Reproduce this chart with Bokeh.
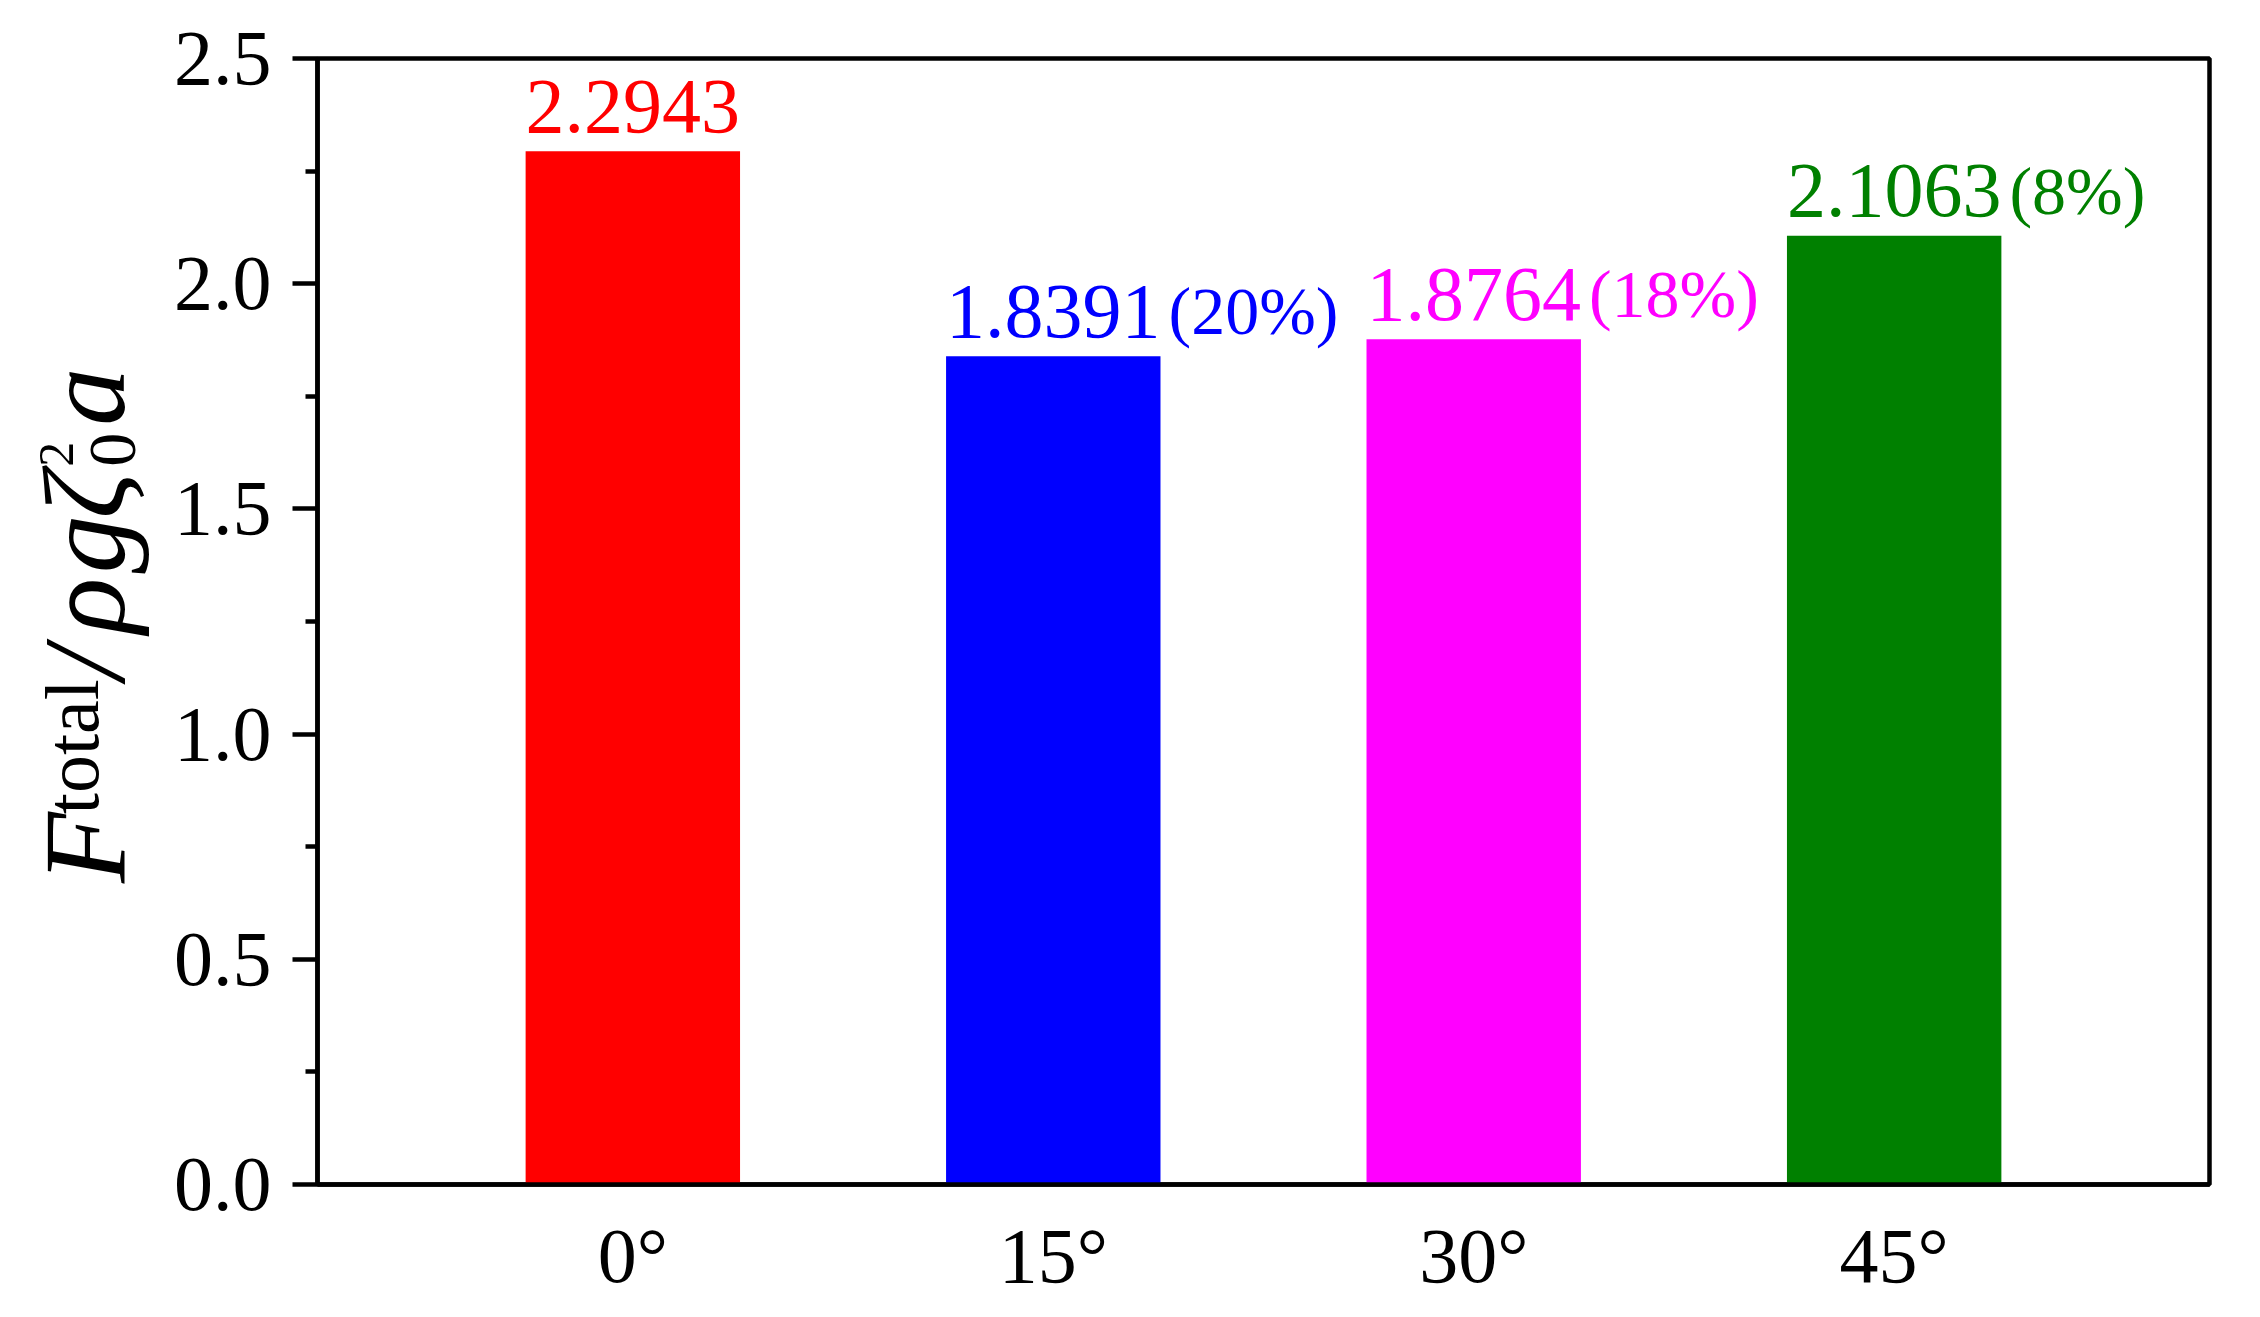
import math
from bokeh.plotting import figure
from bokeh.layouts import row
from bokeh.models import Range1d, FixedTicker, Label, ColumnDataSource, PrintfTickFormatter
from bokeh.core.properties import value
from bokeh.embed import file_html
from bokeh.resources import INLINE

# ---- data ----
categories = ["0°", "15°", "30°", "45°"]
forces = [2.2943, 1.8391, 1.8764, 2.1063]
reductions = ["", "(20%)", "(18%)", "(8%)"]
colors = ["#FF0000", "#0000FF", "#FF00FF", "#008000"]
y_ticks = [0.0, 0.5, 1.0, 1.5, 2.0, 2.5]
y_minor = [0.25, 0.75, 1.25, 1.75, 2.25]

FONT = "Liberation Serif"
xs = list(range(1, len(categories) + 1))
BAR_W = 0.51
LW = 4.5
H = 1301
LAB_W = 170
TOP_B = 58
BOT_B = 115
BASE_K = 0.37   # renderer puts the alphabetic baseline this many em below the anchor

p = figure(width=2244 - LAB_W, height=H, output_backend="svg", toolbar_location=None,
           x_range=Range1d(0.25, 4.75), y_range=Range1d(0, 2.5),
           min_border_left=313 - LAB_W, min_border_right=35, min_border_top=TOP_B,
           min_border_bottom=BOT_B)
p.xgrid.visible = False
p.ygrid.visible = False
p.outline_line_color = "black"
p.outline_line_width = LW
p.outline_line_alpha = 1.0
p.background_fill_color = "white"
p.border_fill_color = "white"

src = ColumnDataSource(dict(
    x=xs, top=forces, color=colors,
    val=[f"{v:.4f}" for v in forces], pct=reductions,
    right=[x + BAR_W / 2 for x in xs]))

VAL_FS = 78
PCT_FS = 68
p.vbar(x="x", top="top", width=BAR_W, fill_color="color", line_color=None, source=src)
p.text(x="x", y="top", text="val", text_color="color", source=src,
       text_font=value(FONT), text_font_size=f"{VAL_FS}px", text_align="center",
       text_baseline="alphabetic", y_offset=-16 - BASE_K * VAL_FS)
p.text(x="right", y="top", text="pct", text_color="color", source=src,
       text_font=value(FONT), text_font_size=f"{PCT_FS}px", text_align="left",
       text_baseline="alphabetic", x_offset=8, y_offset=-20 - BASE_K * PCT_FS)

# ---- axes ----
xa = p.xaxis[0]
xa.ticker = FixedTicker(ticks=xs)
xa.major_label_overrides = {x: c for x, c in zip(xs, categories)}
xa.major_tick_line_color = None
xa.minor_tick_line_color = None
xa.major_tick_out = 0
xa.major_tick_in = 0
xa.major_label_standoff = 27

ya = p.yaxis[0]
ya.ticker = FixedTicker(ticks=y_ticks, minor_ticks=y_minor)
ya.formatter = PrintfTickFormatter(format="%.1f")
ya.major_tick_out = 25
ya.major_tick_in = 0
ya.minor_tick_out = 12
ya.minor_tick_in = 0
ya.major_tick_line_width = LW
ya.minor_tick_line_width = LW
ya.major_label_standoff = 21

for ax in (xa, ya):
    ax.axis_line_width = LW
    ax.axis_line_color = "black"
    ax.major_label_text_font = FONT
    ax.major_label_text_font_size = "78px"
    ax.major_label_text_color = "black"

# ---- rotated y-axis title, in a narrow side figure ----
# its frame is aligned with the main frame, so map data y == page pixels from bottom
lab = figure(width=LAB_W, height=H, output_backend="svg", toolbar_location=None,
             x_range=Range1d(0, LAB_W), y_range=Range1d(BOT_B, H - TOP_B),
             min_border_left=0, min_border_right=0,
             min_border_top=TOP_B, min_border_bottom=BOT_B)
lab.axis.visible = False
lab.grid.visible = False
lab.outline_line_color = None
lab.background_fill_color = "white"
lab.border_fill_color = "white"

S = 116
# text, style, font size, baseline x (page px), start y (page px, text runs upward)
pieces = [
    ("F", "italic", S, 127, 884),
    ("total", "normal", 76, 100, 815),
    ("/", "italic", S, 127, 680),
    ("ρ", "italic", S, 127, 634),
    ("g", "italic", S, 127, 574),
    ("ζ", "italic", S, 127, 519),
    ("0", "normal", 68, 138, 467),
    ("2", "normal", 50, 74, 467),
    ("a", "italic", S, 127, 426),
]
for txt, style, size, bx, sy in pieces:
    lab.add_layout(Label(x=bx - BASE_K * size, y=H - sy, text=txt, angle=math.pi / 2,
                         text_font=FONT, text_font_style=style,
                         text_font_size=f"{size}px", text_color="black",
                         text_align="left", text_baseline="alphabetic"))

layout = row(lab, p)
open("out.html", "w").write(file_html(layout, INLINE))
